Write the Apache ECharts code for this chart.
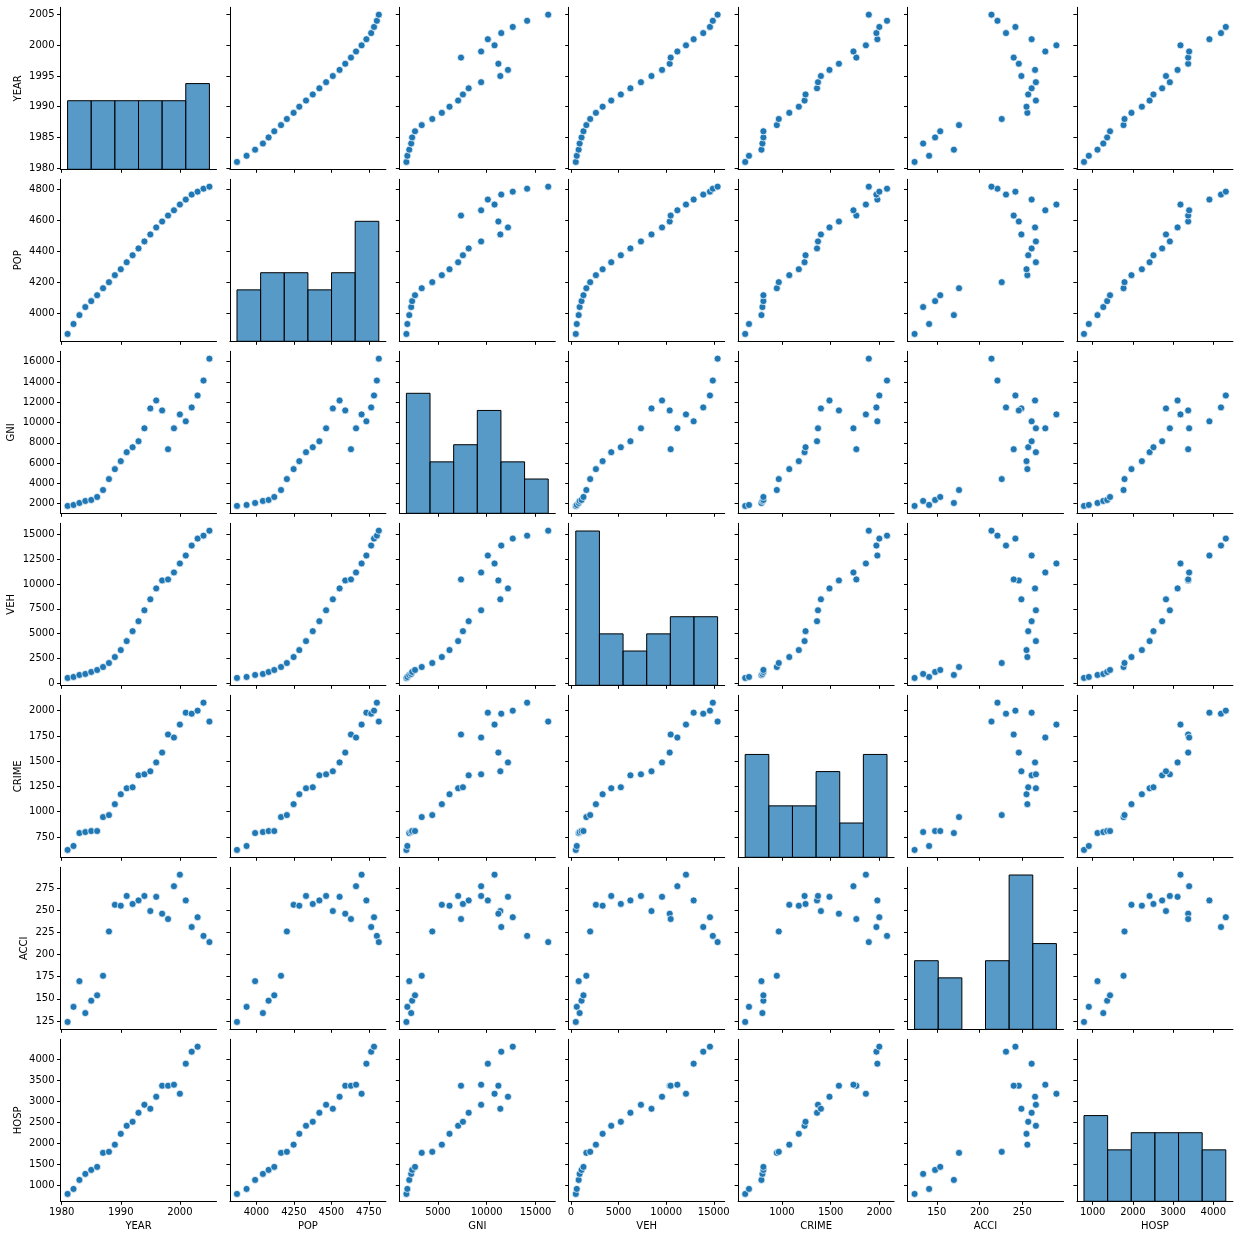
<!DOCTYPE html>
<html><head><meta charset="utf-8">
<script src="https://cdn.jsdelivr.net/npm/echarts@6/dist/echarts.min.js"></script>
<style>html,body{margin:0;padding:0;background:#fff}#c{width:1239px;height:1239px}</style>
</head><body><div id="c"></div>
<script>
// ---- data ----
const varNames = ['YEAR', 'POP', 'GNI', 'VEH', 'CRIME', 'ACCI', 'HOSP'];
const years = [1981,1982,1983,1984,1985,1986,1987,1988,1989,1990,1991,1992,1993,1994,1995,1996,1997,1998,1999,2000,2001,2002,2003,2004,2005];
const pop   = [3870,3934,3991,4043,4081,4119,4164,4203,4248,4286,4331,4376,4420,4465,4510,4555,4593,4631,4665,4702,4734,4766,4785,4804,4817];
const gni   = [1771,1869,2065,2262,2360,2654,3341,4421,5402,6187,7070,7561,8150,9425,11390,12173,11192,7365,9425,10799,10112,11486,12664,14136,16294];
const veh   = [503,604,805,906,1107,1309,1611,2013,2617,3322,4228,5235,6242,7349,8456,9564,10369,10470,11175,12081,12886,13893,14598,14900,15403];
const crime = [622,661,789,799,809,809,947,967,1075,1173,1232,1242,1360,1370,1400,1488,1585,1764,1734,1862,1980,1970,2000,2079,1892];
const acci  = [124,141,170,134,148,154,176,226,256,255,266,257,261,266,249,265,246,240,277,290,261,231,242,221,214];
const hosp  = [784,904,1120,1264,1360,1432,1768,1792,1965,2224,2416,2512,2728,2920,2824,3112,3376,3376,3400,3184,3904,4192,4312,null,null];

// tick labels
const yearTicksY  = [1980,1985,1990,1995,2000,2005];
const yearTicksX  = [1980,1990,2000];
const popTicksY   = [4000,4200,4400,4600,4800];
const popTicksX   = [4000,4250,4500,4750];
const gniTicksY   = [2000,4000,6000,8000,10000,12000,14000,16000];
const gniTicksX   = [5000,10000,15000];
const vehTicksY   = [0,2500,5000,7500,10000,12500,15000];
const vehTicksX   = [0,5000,10000,15000];
const crimeTicksY = [750,1000,1250,1500,1750,2000];
const crimeTicksX = [1000,1500,2000];
const acciTicksY  = [125,150,175,200,225,250,275];
const acciTicksX  = [150,200,250];
const hospTicksY  = [1000,1500,2000,2500,3000,3500,4000];
const hospTicksX  = [1000,2000,3000,4000];
const histBinCount = 6;

// ---- build ----
const vars = [years, pop, gni, veh, crime, acci, hosp];
const ticksY = [yearTicksY, popTicksY, gniTicksY, vehTicksY, crimeTicksY, acciTicksY, hospTicksY];
const ticksX = [yearTicksX, popTicksX, gniTicksX, vehTicksX, crimeTicksX, acciTicksX, hospTicksX];
const N = varNames.length;

function valid(a) { return a.filter(v => v != null); }
function limits(a) {
  const v = valid(a); const mn = Math.min(...v), mx = Math.max(...v); const m = (mx - mn) * 0.05;
  return [mn - m, mx + m];
}
function hist(a) {
  const v = valid(a); const mn = Math.min(...v), mx = Math.max(...v);
  const w = (mx - mn) / histBinCount; const counts = new Array(histBinCount).fill(0);
  v.forEach(x => { let b = Math.floor((x - mn) / w); if (b >= histBinCount) b = histBinCount - 1; counts[b]++; });
  return counts.map((c, i) => [mn + i * w, mn + (i + 1) * w, c]);
}
const hists = vars.map(hist);
const histMax = Math.max(...hists.flat().map(d => d[2])) * 1.05;

const L0 = 60.5, SX = 169.4, W = 156, T0 = 7.3, SY = 172, H = 162;
const FONT = 'DejaVu Sans';
const fmt = v => String(v);

const grids = [], xAxes = [], yAxes = [], series = [];
function labelGap(ticks) { const maxLen = Math.max(...ticks.map(t => String(t).length)); return maxLen * 6.36 + 12; }

for (let i = 0; i < N; i++) {
  for (let j = 0; j < N; j++) {
    const k = i * N + j;
    grids.push({ left: L0 + j * SX, top: T0 + i * SY, width: W, height: H, containLabel: false });
    const xl = limits(vars[j]), yl = limits(vars[i]);
    xAxes.push({
      type: 'value', gridIndex: k, min: xl[0], max: xl[1],
      axisLine: { show: true, onZero: false, lineStyle: { color: '#000', width: 1 } },
      axisTick: { show: true, inside: false, length: 3.5, customValues: ticksX[j], lineStyle: { color: '#000', width: 1 } },
      axisLabel: { show: i === N - 1, customValues: ticksX[j], formatter: fmt, fontSize: 10, fontFamily: FONT, color: '#000', margin: 6, hideOverlap: false, showMinLabel: true, showMaxLabel: true },
      splitLine: { show: false },
      name: i === N - 1 ? varNames[j] : '', nameLocation: 'middle', nameGap: 20,
      nameTextStyle: { fontSize: 10, fontFamily: FONT, color: '#000' }
    });
    const yIdx = yAxes.length;
    yAxes.push({
      type: 'value', gridIndex: k, min: yl[0], max: yl[1], position: 'left',
      axisLine: { show: true, onZero: false, lineStyle: { color: '#000', width: 1 } },
      axisTick: { show: true, inside: false, length: 3.5, customValues: ticksY[i], lineStyle: { color: '#000', width: 1 } },
      axisLabel: { show: j === 0, customValues: ticksY[i], formatter: fmt, fontSize: 10, fontFamily: FONT, color: '#000', margin: 6, hideOverlap: false, showMinLabel: true, showMaxLabel: true },
      splitLine: { show: false },
      name: j === 0 ? varNames[i] : '', nameLocation: 'middle', nameRotate: 90, nameGap: labelGap(ticksY[i]),
      nameTextStyle: { fontSize: 10, fontFamily: FONT, color: '#000' }
    });
    if (i === j) {
      const cIdx = yAxes.length;
      yAxes.push({ type: 'value', gridIndex: k, min: 0, max: histMax, show: false, position: 'right', splitLine: { show: false } });
      series.push({
        type: 'custom', xAxisIndex: k, yAxisIndex: cIdx, silent: true, clip: false,
        encode: { x: [0, 1], y: 2 },
        data: hists[i].filter(d => d[2] > 0),
        renderItem: (params, api) => {
          const p0 = api.coord([api.value(0), api.value(2)]);
          const p1 = api.coord([api.value(1), 0]);
          return { type: 'rect', shape: { x: p0[0], y: p0[1], width: p1[0] - p0[0], height: p1[1] - p0[1] },
                   style: { fill: 'rgba(31,119,180,0.75)', stroke: '#000', lineWidth: 1 } };
        }
      });
    } else {
      const data = [];
      for (let n = 0; n < years.length; n++) {
        const xv = vars[j][n], yv = vars[i][n];
        if (xv != null && yv != null) data.push([xv, yv]);
      }
      series.push({
        type: 'scatter', xAxisIndex: k, yAxisIndex: yIdx, silent: true,
        symbol: 'circle', symbolSize: 7, data,
        itemStyle: { color: '#1f77b4', borderColor: '#ffffff', borderWidth: 0.7, opacity: 1 }
      });
    }
  }
}

const chart = echarts.init(document.getElementById('c'), null, { renderer: 'canvas' });
chart.setOption({ animation: false, backgroundColor: '#fff', grid: grids, xAxis: xAxes, yAxis: yAxes, series });
</script></body></html>
